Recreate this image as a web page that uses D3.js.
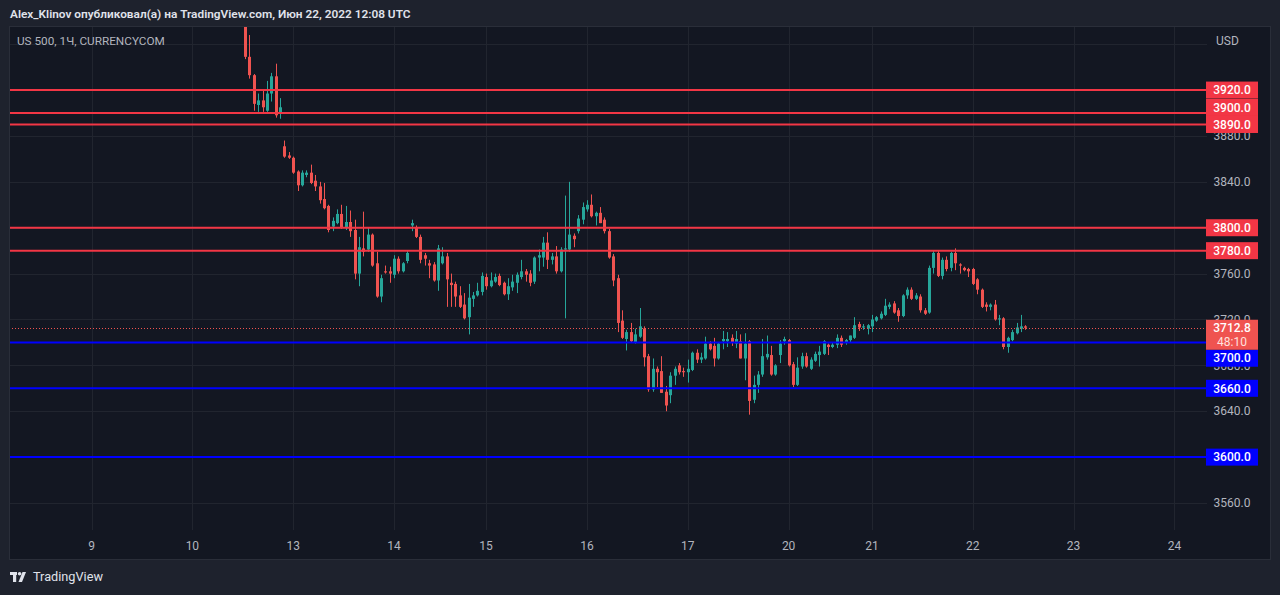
<!DOCTYPE html>
<html><head><meta charset="utf-8">
<script src="https://cdn.jsdelivr.net/npm/d3@7"></script>
<style>
html,body{margin:0;padding:0;background:#1e222d;overflow:hidden;}
svg{display:block;}
text{font-family:Roboto,"Noto Sans",sans-serif;}
</style></head><body>
<svg id="chart" width="1280" height="595"></svg>
<script>
// ---- DATA (hourly candles, US 500 CFD, 10–22 June 2022) ----
const opens = [
 3990,3949,3933,3907,3911,3902,3917,3932,3900,
 3871,3863,3861,3849,3837,3846,3848,3841,3836,3825,3819,3801,3804,3812,3800,3805,3798,3760,3782,3781,3794,3769,3740,3762,3762,
 3759,3773,3762,3771,3802,3800,3792,3776,3769,3768,3754,3769,3775,3752,3751,3741,3733,3722,3738,3741,3744,
 3757,3749,3753,3758,3752,3742,3748,3752,3757,3762,3760,3753,3774,3774,3787,3772,3775,3762,3781,3781,3793,3797,3807,
 3816,3820,3810,3813,3807,3797,3775,3756,3719,3703,3709,3700,3705,3712,3688,3659,3677,3675,3657,3654,3671,3680,3675,
 3674,3676,3691,3685,3686,3699,3697,3686,3701,3701,3704,3699,3701,3686,3701,3650,3663,3672,3687,3689,3672,3689,3701,
 3702,3681,3663,3679,3688,3677,3684,3689,3690,3698,3696,3698,3704,3700,3702,3704,3716,3713,3712,
 3714,3719,3721,3724,3731,3734,3728,3723,3741,3746,3738,3740,3728,3726,3765,3778,3758,3772,3765,3778,3768,3765,3764,
 3764,3755,3746,3733,3731,3733,3720,3721,3696,3702,3708,3712,3714
];
const highs = [
 3995,3968,3934,3917,3920,3928,3935,3943,3913,
 3876,3866,3862,3850,3850,3850,3855,3846,3840,3839,3820,3809,3816,3820,3819,3815,3807,3792,3814,3800,3795,3779,3759,3767,3766,
 3776,3775,3770,3780,3807,3802,3794,3778,3772,3770,3785,3783,3778,3760,3753,3749,3743,3751,3744,3752,3761,
 3760,3761,3760,3760,3753,3756,3759,3761,3772,3764,3763,3775,3781,3792,3796,3778,3784,3783,3828,3840,3795,3811,3822,
 3824,3829,3814,3818,3809,3799,3777,3759,3728,3711,3717,3712,3730,3714,3690,3686,3679,3688,3662,3674,3679,3682,3678,
 3685,3692,3694,3691,3705,3701,3704,3700,3710,3709,3707,3710,3707,3708,3702,3671,3675,3703,3706,3697,3681,3702,3705,
 3703,3683,3687,3691,3691,3687,3692,3697,3702,3699,3700,3707,3706,3703,3706,3722,3718,3716,3716,
 3724,3723,3727,3738,3735,3736,3730,3742,3748,3748,3743,3742,3730,3767,3780,3780,3774,3775,3779,3782,3769,3766,3765,
 3765,3756,3747,3735,3734,3737,3724,3722,3705,3711,3717,3724,3715
];
const lows = [
 3947,3930,3902,3901,3901,3901,3910,3896,3895,
 3861,3860,3847,3832,3836,3844,3838,3832,3821,3816,3796,3797,3803,3799,3798,3792,3755,3749,3775,3779,3766,3739,3735,3760,3752,
 3756,3760,3761,3769,3797,3791,3769,3767,3756,3753,3745,3768,3731,3731,3731,3730,3720,3707,3731,3740,3741,
 3746,3748,3752,3749,3741,3737,3745,3743,3755,3753,3749,3751,3762,3766,3764,3768,3760,3761,3721,3779,3783,3795,3803,
 3814,3809,3802,3804,3795,3773,3749,3709,3703,3693,3700,3699,3704,3679,3657,3657,3661,3656,3640,3647,3663,3672,3670,
 3665,3675,3682,3682,3685,3693,3679,3685,3694,3696,3697,3695,3686,3667,3637,3647,3656,3670,3685,3671,3671,3682,3698,
 3679,3661,3662,3677,3678,3676,3683,3679,3689,3689,3695,3695,3696,3698,3700,3703,3710,3711,3707,
 3709,3718,3720,3723,3729,3725,3718,3722,3738,3737,3737,3726,3724,3725,3760,3757,3755,3762,3762,3763,3760,3762,3757,
 3750,3742,3730,3727,3728,3719,3715,3694,3691,3701,3707,3709,3711
];
const closes = [
 3949,3933,3908,3911,3905,3917,3932,3898,3905,
 3862,3861,3848,3837,3848,3848,3839,3836,3824,3817,3798,3806,3812,3800,3805,3797,3760,3783,3779,3794,3767,3740,3756,3761,3760,
 3773,3762,3769,3778,3804,3792,3772,3773,3767,3754,3782,3775,3755,3750,3740,3731,3721,3739,3741,3745,3758,
 3749,3754,3757,3750,3742,3749,3753,3759,3762,3759,3752,3774,3776,3787,3772,3775,3762,3781,3782,3794,3790,3808,3818,
 3820,3810,3813,3804,3797,3774,3754,3717,3704,3709,3701,3707,3714,3687,3659,3677,3674,3656,3645,3671,3677,3674,3674,
 3677,3691,3685,3687,3699,3694,3686,3699,3703,3703,3700,3703,3686,3699,3649,3663,3672,3688,3690,3672,3680,3699,3703,
 3680,3663,3678,3688,3679,3685,3690,3692,3701,3696,3698,3704,3698,3702,3706,3715,3713,3714,3715,
 3720,3722,3725,3732,3733,3726,3723,3741,3746,3738,3741,3728,3725,3765,3778,3758,3772,3764,3778,3769,3767,3763,3762,
 3751,3746,3731,3731,3733,3720,3721,3696,3704,3709,3713,3714,3712.8
];
const dayTickIndex = [-35,-12,11,34,55,78,101,124,143,166,189,212];
const dayTickLabel = ["9","10","13","14","15","16","17","20","21","22","23","24"];
const priceTicks = [3560,3600,3640,3680,3720,3760,3800,3840,3880,3920,3960];
const resistanceLevels = [3920,3900,3890,3800,3780];
const supportLevels = [3700,3660,3600];
const lastPrice = 3712.8;
const countdown = "48:10";
const headerText = "Alex_Klinov опубликовал(а) на TradingView.com, Июн 22, 2022 12:08 UTC";
const symbolText = "US 500, 1Ч, CURRENCYCOM";
const currencyText = "USD";

// ---- LAYOUT ----
const W = 1280, H = 595;
const pane = {x:9, y:26, w:1261, h:533};
const plot = {l:9, r:1207, t:26, b:530};
const C = {
  outer:"#1e222d", pane:"#131722", border:"#2a2e39", grid:"#21252f",
  text:"#b2b5be", head:"#e0e3eb", up:"#26a69a", down:"#ef5350",
  res:"#f23645", sup:"#0000ff", last:"#ef5350"
};

const svg = d3.select("#chart");
svg.append("rect").attr("width",W).attr("height",H).attr("fill",C.outer);
svg.append("rect").attr("x",pane.x+0.5).attr("y",pane.y+0.5).attr("width",pane.w).attr("height",pane.h)
  .attr("fill",C.pane).attr("stroke",C.border);

const x = d3.scaleLinear().domain([-53.83, 219.43]).range([plot.l, plot.r]);
const y = d3.scaleLinear().domain([3536.46, 3975.87]).range([plot.b, plot.t]);

svg.append("clipPath").attr("id","clip").append("rect")
  .attr("x",plot.l+1).attr("y",plot.t+1).attr("width",plot.r-plot.l-1).attr("height",plot.b-plot.t);

// grid
const g = svg.append("g").attr("clip-path","url(#clip)");
g.selectAll("line.hg").data(priceTicks).join("line")
  .attr("x1",plot.l).attr("x2",plot.r)
  .attr("y1",d=>Math.round(y(d))+0.5).attr("y2",d=>Math.round(y(d))+0.5)
  .attr("stroke",C.grid).attr("stroke-width",1);
g.selectAll("line.vg").data(dayTickIndex).join("line")
  .attr("y1",plot.t).attr("y2",plot.b)
  .attr("x1",d=>Math.round(x(d))+0.5).attr("x2",d=>Math.round(x(d))+0.5)
  .attr("stroke",C.grid).attr("stroke-width",1);

// candles
const candles = opens.map((o,i)=>({i, o, h:highs[i], l:lows[i], c:closes[i]}));
const cg = g.append("g");
cg.selectAll("line.wick").data(candles).join("line")
  .attr("x1",d=>Math.round(x(d.i))+0.5).attr("x2",d=>Math.round(x(d.i))+0.5)
  .attr("y1",d=>y(d.h)).attr("y2",d=>y(d.l))
  .attr("stroke",d=>d.c>=d.o?C.up:C.down).attr("stroke-width",1);
cg.selectAll("rect.body").data(candles).join("rect")
  .attr("x",d=>Math.round(x(d.i))-1).attr("width",3)
  .attr("y",d=>y(Math.max(d.o,d.c)))
  .attr("height",d=>Math.max(1, Math.abs(y(d.o)-y(d.c))))
  .attr("fill",d=>d.c>=d.o?C.up:C.down);

// current price dotted line
g.append("line").attr("x1",plot.l).attr("x2",plot.r)
  .attr("y1",Math.round(y(lastPrice))+0.5).attr("y2",Math.round(y(lastPrice))+0.5)
  .attr("stroke",C.last).attr("stroke-width",1).attr("stroke-dasharray","1,2");

// level lines
const levels = resistanceLevels.map(v=>({v,col:C.res})).concat(supportLevels.map(v=>({v,col:C.sup})));
g.selectAll("line.lvl").data(levels).join("line")
  .attr("x1",plot.l).attr("x2",plot.r+1)
  .attr("y1",d=>y(d.v)).attr("y2",d=>y(d.v))
  .attr("stroke",d=>d.col).attr("stroke-width",2);

// price axis labels
const axX = 1232;
svg.append("g").selectAll("text").data(priceTicks.filter(d=>d<3950)).join("text")
  .attr("x",axX).attr("y",d=>y(d)).attr("dy","0.35em").attr("text-anchor","middle")
  .attr("fill",C.text).attr("font-size",12).text(d=>d.toFixed(1));
svg.append("text").attr("x",1216).attr("y",41).attr("dy","0.35em")
  .attr("fill",C.text).attr("font-size",12).text(currencyText);

// time axis labels
svg.append("g").selectAll("text").data(dayTickIndex).join("text")
  .attr("x",d=>x(d)).attr("y",546).attr("dy","0.35em").attr("text-anchor","middle")
  .attr("fill",C.text).attr("font-size",12).text((d,i)=>dayTickLabel[i]);

// label boxes with simple collision layout around the fixed last-price box
const boxL = 1206, boxW = 52, boxH = 17;
const lastY = y(lastPrice);
const lastTop = lastY - 8, lastBot = lastY + 22;
const above = levels.filter(d=>d.v>lastPrice).sort((a,b)=>a.v-b.v);
let lim = lastTop;
above.forEach(d=>{ let c=y(d.v); if(c+boxH/2>lim) c=lim-boxH/2; d.cy=c; lim=c-boxH/2; });
const below = levels.filter(d=>d.v<lastPrice).sort((a,b)=>b.v-a.v);
lim = lastBot;
below.forEach(d=>{ let c=y(d.v); if(c-boxH/2<lim) c=lim+boxH/2; d.cy=c; lim=c+boxH/2; });

const lb = svg.append("g");
lb.selectAll("rect").data(levels).join("rect")
  .attr("x",boxL).attr("y",d=>d.cy-boxH/2).attr("width",boxW).attr("height",boxH)
  .attr("fill",d=>d.col);
lb.selectAll("text").data(levels).join("text")
  .attr("x",boxL+boxW/2).attr("y",d=>d.cy).attr("dy","0.35em").attr("text-anchor","middle")
  .attr("fill","#ffffff").attr("font-size",12).attr("font-weight",500).text(d=>d.v.toFixed(1));

svg.append("rect").attr("x",boxL).attr("y",lastTop).attr("width",boxW).attr("height",lastBot-lastTop)
  .attr("fill",C.last);
svg.append("text").attr("x",boxL+boxW/2).attr("y",lastY).attr("dy","0.35em").attr("text-anchor","middle")
  .attr("fill","#ffffff").attr("font-size",12).attr("font-weight",500).text(lastPrice.toFixed(1));
svg.append("text").attr("x",boxL+boxW/2).attr("y",lastY+14).attr("dy","0.35em").attr("text-anchor","middle")
  .attr("fill","#ffe0de").attr("font-size",12).text(countdown);

// header texts
function fitText(sel, width){
  const n = sel.node(); const w = n.getComputedTextLength();
  const fs = parseFloat(sel.attr("font-size"));
  sel.attr("font-size", fs*width/w);
}
const ht = svg.append("text").attr("x",10).attr("y",14).attr("dy","0.35em")
  .attr("fill",C.head).attr("font-size",13).attr("font-weight",600).text(headerText);
fitText(ht, 401);
const st = svg.append("text").attr("x",17).attr("y",41).attr("dy","0.35em")
  .attr("fill",C.text).attr("font-size",12).text(symbolText);
fitText(st, 148);

// footer logo + text
const logo = svg.append("g").attr("fill",C.head);
logo.append("rect").attr("x",10).attr("y",572).attr("width",7).attr("height",3);
logo.append("rect").attr("x",13).attr("y",572).attr("width",3.2).attr("height",10);
logo.append("circle").attr("cx",19.6).attr("cy",573.7).attr("r",1.8);
logo.append("polygon").attr("points","22.5,572 26,572 22,582 18.5,582");
const ft = svg.append("text").attr("x",33).attr("y",577).attr("dy","0.35em")
  .attr("fill",C.head).attr("font-size",13).text("TradingView");
fitText(ft, 70);
</script>
</body></html>
